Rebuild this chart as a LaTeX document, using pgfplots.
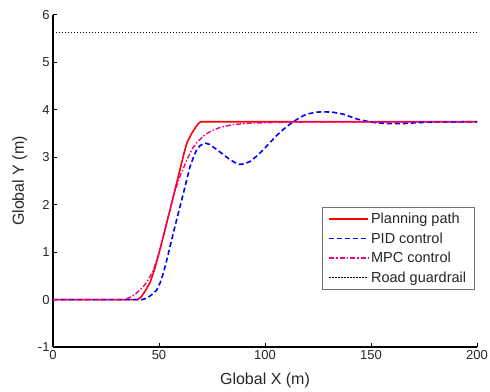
\documentclass[border=0pt]{standalone}
\usepackage{fontspec}
\setmainfont{Liberation Sans}
\usepackage{pgfplots}
\pgfplotsset{compat=1.18}
\begin{document}
\begin{tikzpicture}
\begin{axis}[
  name=ax,
  at={(0,0)}, anchor=south west,
  scale only axis,
  width=424bp, height=332bp,
  xmin=0, xmax=200, ymin=-1, ymax=6,
  axis lines=left,
  axis line style={-, line width=1.1bp, black},
  xtick={0,50,100,150,200},
  ytick={-1,0,1,2,3,4,5,6},
  tick align=inside,
  major tick length=4bp,
  tick style={line width=1bp, black},
  /pgf/number format/assume math mode=true,
  ticklabel style={font=\fontsize{13bp}{15bp}\selectfont, text=black!85},
  label style={font=\fontsize{16bp}{18bp}\selectfont, text=black!85},
  xlabel={Global X (m)},
  ylabel={Global Y (m)},
  xlabel style={yshift=-6bp},
  ylabel style={yshift=4bp},
  legend image code/.code={\draw[#1] (0bp,0bp) -- (39bp,0bp);},
  legend style={at={(0.994,0.172)}, anchor=south east, draw=black!55, line width=0.6bp,
    font=\fontsize{14.5bp}{16bp}\selectfont, text=black!85, inner xsep=6bp, inner ysep=4bp, row sep=3.5bp},
  legend cell align=left,
]
\addplot[red, line width=1.6bp] coordinates {
(0,0) (40,0) (41.5,0.05) (43.5,0.18) (45.8,0.36) (48,0.65) (50,0.98) (52,1.33) (54,1.68)
(56,2.03) (58,2.4) (60,2.76) (62,3.12) (63.3,3.32) (65.4,3.5) (67.5,3.65) (69,3.73) (70,3.75) (200,3.75)};
\addlegendentry{Planning path}
\addplot[blue, line width=1.6bp, dash pattern=on 5bp off 3bp] coordinates {
(0,0) (42,0) (44.2,0.03) (46.5,0.1) (48.9,0.2) (50.5,0.35) (52,0.55) (53.6,0.82) (55.2,1.12)
(58.3,1.68) (61.5,2.24) (64.6,2.8) (66.5,3.03) (67.8,3.16) (69.5,3.25) (71.7,3.3) (74,3.27)
(78.8,3.11) (83.5,2.95) (87.4,2.85) (90,2.86) (92.9,2.91) (96,3.02) (99.2,3.16) (105.5,3.46)
(110,3.64) (113.4,3.75) (116.5,3.84) (119.7,3.91) (124,3.95) (127.5,3.96) (132,3.95)
(136.9,3.91) (140,3.86) (143.2,3.81) (148,3.76) (152,3.73) (158,3.71) (165,3.71) (172,3.73)
(180,3.745) (200,3.75)};
\addlegendentry{PID control}
\addplot[magenta, line width=1.4bp, dash pattern=on 5bp off 2bp on 1.5bp off 2bp] coordinates {
(0,0) (34,0) (36,0.04) (39,0.12) (42.6,0.27) (45,0.42) (47.3,0.62) (50.5,1.05) (53.6,1.61)
(56.7,2.17) (59.9,2.6) (63.8,3.01) (66,3.2) (68,3.32) (71,3.45) (74,3.54) (78.8,3.63)
(85,3.69) (93,3.72) (105,3.735) (120,3.745) (200,3.75)};
\addlegendentry{MPC control}
\addplot[black, line width=1.1bp, dash pattern=on 1.3bp off 1.7bp] coordinates {(0,5.625) (200,5.625)};
\addlegendentry{Road guardrail}
\end{axis}
\pgfresetboundingbox
\path[use as bounding box] ([shift={(-53bp,-45bp)}]ax.south west) rectangle ++(490bp,392bp);
\end{tikzpicture}
\end{document}
